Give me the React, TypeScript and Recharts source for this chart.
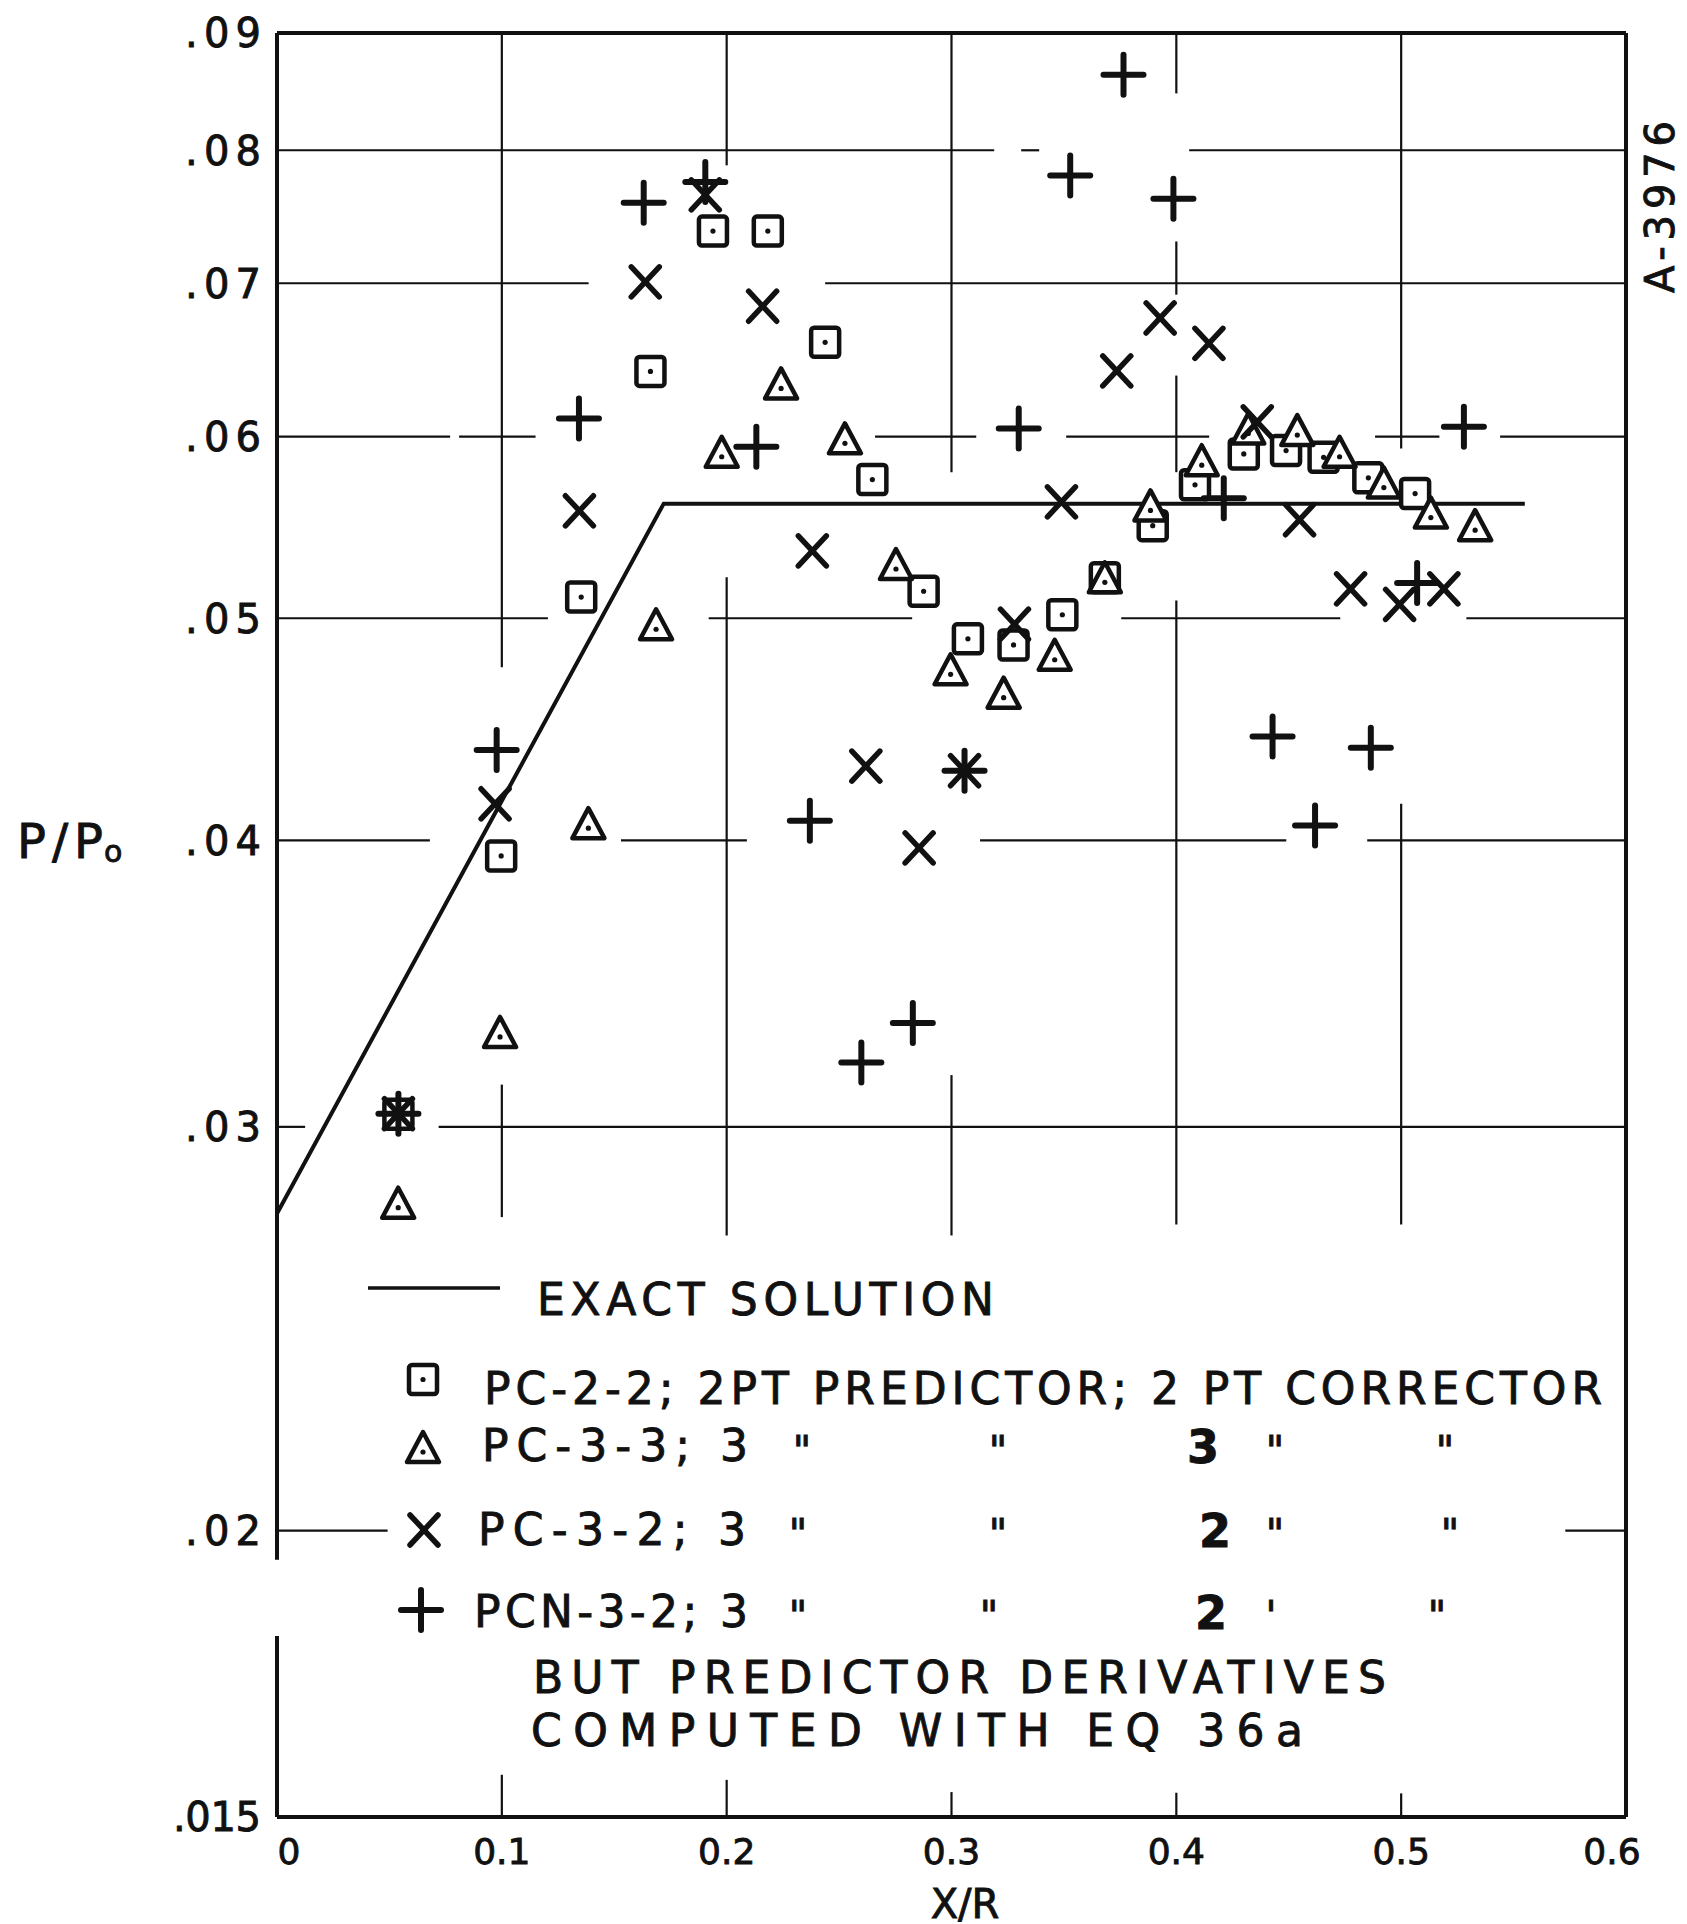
import React from 'react';
import { ScatterChart, Scatter, XAxis, YAxis, ReferenceLine } from 'recharts';

// axis ticks
const xTicks = [0, 0.1, 0.2, 0.3, 0.4, 0.5, 0.6];
const xTickLabels = ['0', '0.1', '0.2', '0.3', '0.4', '0.5', '0.6'];
const yTicks = [0.015, 0.02, 0.03, 0.04, 0.05, 0.06, 0.07, 0.08, 0.09];
const yTickLabels = ['.015', '.02', '.03', '.04', '.05', '.06', '.07', '.08', '.09'];

// exact solution (straight ramp then flat)
const exactX = [0, 0.172, 0.555];
const exactY = [0.0275, 0.0561, 0.0561];

// PC-2-2 (squares)
const pc22X = [0.054, 0.0997, 0.1353, 0.1661, 0.1939, 0.2183, 0.2438, 0.2648, 0.2876, 0.3073, 0.3276, 0.3493, 0.3682, 0.3895, 0.4083, 0.43, 0.4488, 0.4655, 0.4854, 0.5062];
const pc22Y = [0.0304, 0.0394, 0.0511, 0.0641, 0.0738, 0.0738, 0.066, 0.0575, 0.0514, 0.049, 0.0487, 0.0502, 0.0521, 0.0549, 0.0572, 0.059, 0.0592, 0.0588, 0.0576, 0.0567];

// PC-3-3 (triangles)
const pc33X = [0.0539, 0.0992, 0.1385, 0.1686, 0.1978, 0.2242, 0.2526, 0.2753, 0.2996, 0.3232, 0.3459, 0.3682, 0.3885, 0.4113, 0.432, 0.4538, 0.4726, 0.4923, 0.5132, 0.5329];
const pc33Y = [0.0278, 0.033, 0.0407, 0.0497, 0.0591, 0.0633, 0.0599, 0.0528, 0.0475, 0.0464, 0.0482, 0.0521, 0.056, 0.0586, 0.0605, 0.0604, 0.0591, 0.0573, 0.0556, 0.0549];

// PC-3-2 (crosses)
const pc32X = [0.054, 0.097, 0.1345, 0.1638, 0.1905, 0.216, 0.2381, 0.2619, 0.2856, 0.3058, 0.328, 0.3489, 0.3735, 0.3928, 0.4145, 0.436, 0.4548, 0.4775, 0.4993, 0.519];
const pc32Y = [0.0304, 0.0415, 0.0557, 0.0701, 0.0765, 0.0684, 0.0535, 0.0431, 0.0397, 0.0429, 0.0497, 0.0562, 0.0641, 0.0676, 0.0659, 0.0609, 0.0552, 0.0515, 0.0507, 0.0515];

// PCN-3-2 (pluses)
const pcn32X = [0.054, 0.0977, 0.1343, 0.1631, 0.1905, 0.2132, 0.237, 0.2599, 0.2828, 0.3058, 0.3299, 0.3528, 0.3765, 0.3987, 0.4211, 0.4428, 0.4617, 0.4865, 0.5071, 0.5279];
const pcn32Y = [0.0304, 0.0438, 0.0611, 0.0759, 0.0775, 0.0594, 0.0408, 0.032, 0.0333, 0.0429, 0.0605, 0.078, 0.0863, 0.0762, 0.0564, 0.0444, 0.0406, 0.0439, 0.0518, 0.0606];

const toPoints = (xs: number[], ys: number[]) => xs.map((x, i) => ({ x, y: ys[i] }));

const INK = '#111';
const FONT = '"DejaVu Sans", sans-serif';

// chart box sits at the body's 8px margin
const CW = 1679;
const CH = 1916;

// hand-drawn grid: each line with the pieces that were actually inked
const hGrid: [number, [number, number][]][] = [
  [0.08, [[0, 0.319], [0.331, 0.339], [0.4057, 0.6]]],
  [0.07, [[0, 0.1386], [0.2438, 0.6]]],
  [0.06, [[0, 0.077], [0.081, 0.115], [0.266, 0.311], [0.351, 0.4146], [0.4884, 0.517], [0.544, 0.6]]],
  [0.05, [[0, 0.1205], [0.192, 0.2825], [0.3755, 0.4729], [0.529, 0.6]]],
  [0.04, [[0, 0.068], [0.153, 0.209], [0.3127, 0.4489], [0.4849, 0.6]]],
  [0.03, [[0, 0.0125], [0.0719, 0.6]]],
  [0.02, [[0, 0.0492], [0.573, 0.6]]],
];
const vGrid: [number, [number, number][]][] = [
  [0.1, [[0.09, 0.0476], [0.0313, 0.0274], [0.01565, 0.015]]],
  [0.2, [[0.09, 0.0788], [0.0521, 0.0269], [0.01557, 0.015]]],
  [0.3, [[0.09, 0.0579], [0.0316, 0.0269], [0.01538, 0.015]]],
  [0.4, [[0.09, 0.0847], [0.073, 0.0692], [0.0638, 0.0579], [0.0509, 0.0272], [0.01537, 0.015]]],
  [0.5, [[0.09, 0.0593], [0.0415, 0.0272], [0.01536, 0.015]]],
];

const SquareMark = ({ cx, cy }: any) => (
  <g>
    <rect x={cx - 14} y={cy - 14} width={28} height={29} rx={3} fill="#fff" stroke={INK} strokeWidth={4.5} />
    <circle cx={cx} cy={cy + 0.5} r={2.6} fill={INK} />
  </g>
);

const TriangleMark = ({ cx, cy }: any) => (
  <g>
    <path
      d={`M${cx},${cy - 15} L${cx + 16},${cy + 15} L${cx - 16},${cy + 15} Z`}
      fill="#fff"
      stroke={INK}
      strokeWidth={4.5}
      strokeLinejoin="round"
    />
    <circle cx={cx} cy={cy + 5} r={2.6} fill={INK} />
  </g>
);

const CrossMark = ({ cx, cy }: any) => (
  <g stroke={INK} strokeWidth={5.5} strokeLinecap="round">
    <line x1={cx - 14} y1={cy - 15} x2={cx + 14} y2={cy + 15} />
    <line x1={cx + 14} y1={cy - 15} x2={cx - 14} y2={cy + 15} />
  </g>
);

const PlusMark = ({ cx, cy }: any) => (
  <g stroke={INK} strokeWidth={6} strokeLinecap="round">
    <line x1={cx - 20} y1={cy} x2={cx + 20} y2={cy} />
    <line x1={cx} y1={cy - 20} x2={cx} y2={cy + 20} />
  </g>
);

const pen = { stroke: INK, strokeWidth: 0.9 } as const;

const YTick = (props: any) => {
  const i = yTicks.indexOf(props.payload.value);
  const label = yTickLabels[i];
  return (
    <text
      x={253}
      y={props.y}
      dy="0.36em"
      textAnchor="end"
      fontFamily={FONT}
      fontSize={40}
      fill={INK}
      {...pen}
      textLength={label.length > 3 ? 88 : 76}
      lengthAdjust="spacing"
    >
      {label}
    </text>
  );
};

const XTick = (props: any) => {
  const i = xTicks.indexOf(props.payload.value);
  const shift = i === 0 ? 12 : i === xTicks.length - 1 ? -14 : 0;
  return (
    <text x={props.x + shift} y={1856} textAnchor="middle" fontFamily={FONT} fontSize={36} fill={INK} {...pen}>
      {xTickLabels[i]}
    </text>
  );
};

const Ditto = ({ x, y }: { x: number; y: number }) => (
  <text x={x} y={y} textAnchor="middle" fontFamily={FONT} fontSize={40} fill={INK} {...pen}>
    "
  </text>
);

const Overlay = () => {
  const t = { fontFamily: FONT, fill: INK, ...pen } as const;
  return (
    <svg
      width={1687}
      height={1924}
      style={{ position: 'absolute', left: -8, top: -8, pointerEvents: 'none', overflow: 'visible' }}
    >
      {/* axis titles */}
      <text x={17} y={858} {...t} fontSize={48} textLength={86} lengthAdjust="spacing">
        P/P
      </text>
      <text x={104} y={862} {...t} fontSize={30}>
        o
      </text>
      <text x={965} y={1918} {...t} fontSize={40} textAnchor="middle">
        X/R
      </text>
      <text
        x={1660}
        y={207}
        {...t}
        fontSize={40}
        textAnchor="middle"
        dominantBaseline="central"
        textLength={172}
        lengthAdjust="spacing"
        transform="rotate(-90 1660 207)"
      >
        A-3976
      </text>

      {/* legend */}
      <line x1={368} y1={1288} x2={500} y2={1288} stroke={INK} strokeWidth={3.5} />
      <text x={537} y={1315} {...t} fontSize={44} textLength={457} lengthAdjust="spacing">
        EXACT SOLUTION
      </text>

      <SquareMark cx={423} cy={1379} />
      <text x={484} y={1404} {...t} fontSize={44} textLength={1118} lengthAdjust="spacing">
        PC-2-2; 2PT PREDICTOR; 2 PT CORRECTOR
      </text>

      <TriangleMark cx={423} cy={1447} />
      <text x={482} y={1461} {...t} fontSize={44} textLength={266} lengthAdjust="spacing">
        PC-3-3; 3
      </text>
      <Ditto x={802} y={1465} />
      <Ditto x={998} y={1465} />
      <text x={1203} y={1463} {...t} fontSize={46} fontWeight={700} textAnchor="middle">
        3
      </text>
      <Ditto x={1275} y={1465} />
      <Ditto x={1445} y={1465} />

      <CrossMark cx={424} cy={1530} />
      <text x={478} y={1545} {...t} fontSize={44} textLength={268} lengthAdjust="spacing">
        PC-3-2; 3
      </text>
      <Ditto x={798} y={1548} />
      <Ditto x={998} y={1548} />
      <text x={1215} y={1547} {...t} fontSize={46} fontWeight={700} textAnchor="middle">
        2
      </text>
      <Ditto x={1275} y={1548} />
      <Ditto x={1450} y={1548} />

      <PlusMark cx={421} cy={1610} />
      <text x={474} y={1627} {...t} fontSize={44} textLength={274} lengthAdjust="spacing">
        PCN-3-2; 3
      </text>
      <Ditto x={798} y={1630} />
      <Ditto x={989} y={1630} />
      <text x={1211} y={1629} {...t} fontSize={46} fontWeight={700} textAnchor="middle">
        2
      </text>
      <text x={1271} y={1630} {...t} fontSize={40} textAnchor="middle">
        '
      </text>
      <Ditto x={1437} y={1630} />

      <text x={533} y={1693} {...t} fontSize={44} textLength={853} lengthAdjust="spacing">
        BUT PREDICTOR DERIVATIVES
      </text>
      <text x={531} y={1746} {...t} fontSize={44} textLength={772} lengthAdjust="spacing">
        COMPUTED WITH EQ 36a
      </text>
    </svg>
  );
};

const App: React.FC = () => {
  const seg = (a: { x: number; y: number }, b: { x: number; y: number }) => [a, b] as any;

  return (
    <div style={{ position: 'relative', width: CW, height: CH, background: '#fff' }}>
      <ScatterChart width={CW} height={CH} margin={{ top: 25, right: 61, bottom: 47, left: 189 }}>
        <XAxis
          type="number"
          dataKey="x"
          domain={[0, 0.6]}
          ticks={xTicks}
          allowDataOverflow
          axisLine={false}
          tickLine={false}
          height={60}
          tick={<XTick />}
        />
        <YAxis
          type="number"
          dataKey="y"
          scale="log"
          domain={[0.015, 0.09]}
          ticks={yTicks}
          allowDataOverflow
          axisLine={false}
          tickLine={false}
          width={80}
          tick={<YTick />}
        />

        {/* grid */}
        {hGrid.map(([y, parts]) =>
          parts.map(([x0, x1], k) => (
            <ReferenceLine
              key={`h-${y}-${k}`}
              segment={seg({ x: x0, y }, { x: x1, y })}
              stroke={INK}
              strokeWidth={2.2}
              ifOverflow="visible"
            />
          ))
        )}
        {vGrid.map(([x, parts]) =>
          parts.map(([y0, y1], k) => (
            <ReferenceLine
              key={`v-${x}-${k}`}
              segment={seg({ x, y: y0 }, { x, y: y1 })}
              stroke={INK}
              strokeWidth={2.2}
              ifOverflow="visible"
            />
          ))
        )}

        {/* frame */}
        <ReferenceLine segment={seg({ x: 0, y: 0.09 }, { x: 0.6, y: 0.09 })} stroke={INK} strokeWidth={4} ifOverflow="visible" />
        <ReferenceLine segment={seg({ x: 0, y: 0.015 }, { x: 0.6, y: 0.015 })} stroke={INK} strokeWidth={4} ifOverflow="visible" />
        <ReferenceLine segment={seg({ x: 0, y: 0.09 }, { x: 0, y: 0.01942 })} stroke={INK} strokeWidth={4} ifOverflow="visible" />
        <ReferenceLine segment={seg({ x: 0, y: 0.01799 }, { x: 0, y: 0.015 })} stroke={INK} strokeWidth={4} ifOverflow="visible" />
        <ReferenceLine segment={seg({ x: 0.6, y: 0.09 }, { x: 0.6, y: 0.015 })} stroke={INK} strokeWidth={4} ifOverflow="visible" />

        <Scatter
          name="EXACT SOLUTION"
          data={toPoints(exactX, exactY)}
          line={{ stroke: INK, strokeWidth: 4 }}
          shape={() => <g />}
          isAnimationActive={false}
        />
        <Scatter name="PC-2-2" data={toPoints(pc22X, pc22Y)} shape={SquareMark} isAnimationActive={false} />
        <Scatter name="PC-3-3" data={toPoints(pc33X, pc33Y)} shape={TriangleMark} isAnimationActive={false} />
        <Scatter name="PC-3-2" data={toPoints(pc32X, pc32Y)} shape={CrossMark} isAnimationActive={false} />
        <Scatter name="PCN-3-2" data={toPoints(pcn32X, pcn32Y)} shape={PlusMark} isAnimationActive={false} />
      </ScatterChart>
      <Overlay />
    </div>
  );
};

export default App;
